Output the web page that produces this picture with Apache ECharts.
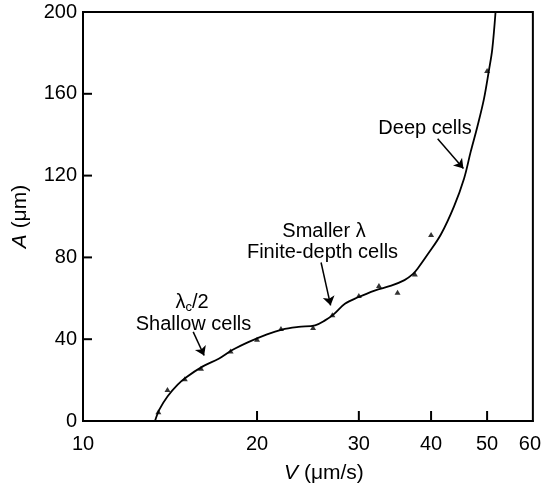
<!DOCTYPE html>
<html>
<head>
<meta charset="utf-8">
<script src="https://cdn.jsdelivr.net/npm/echarts@6/dist/echarts.min.js"></script>
<style>
html,body{margin:0;padding:0;background:#fff;}
#c{width:544px;height:489px;}
</style>
</head>
<body>
<div id="c"></div>
<script>
// Measured points (triangles)
const V_pts = [13.5, 14, 15, 16, 18, 20, 22, 25, 27, 30, 32.5, 35, 37.5, 40, 50];
const A_pts = [4.5, 15.4, 20.7, 25.8, 34.2, 40.0, 45.2, 45.7, 52.0, 61.4, 66.2, 63.0, 71.9, 91.2, 171.4];
// Fitted curve
const V_curve = [13.32, 13.56, 14.01, 14.58, 15.07, 16.09, 17.20, 18.12, 19.36, 20.81, 22.09, 23.59, 25.20, 26.22, 27.10, 28.38, 29.91, 31.95, 34.13, 35.98, 37.19, 37.93, 39.47, 41.59, 43.85, 45.62, 46.83, 48.08, 49.37, 50.36, 51.03, 51.71];
const A_curve = [0, 5.7, 12.1, 17.8, 21.3, 26.6, 30.6, 34.7, 38.7, 42.4, 44.7, 46.0, 46.8, 49.2, 52.0, 57.3, 60.5, 63.8, 66.2, 68.9, 71.8, 74.6, 81.5, 91.2, 105.1, 118.6, 131.6, 143.8, 157.4, 171.4, 181.6, 200];
// Tick labels
const xTicks = [10, 20, 30, 40, 50, 60];
const yTicks = [0, 40, 80, 120, 160, 200];
// Annotation arrows (data coords: [from, to])
const arrows = [
  [[15.51, 43.6], [16.20, 32.0]],
  [[25.81, 77.5], [26.81, 56.5]],
  [[41.06, 138.0], [45.50, 123.5]]
];

const FONT = '"Liberation Sans", Arial, Helvetica, sans-serif';
const chart = echarts.init(document.getElementById('c'), null, {renderer: 'canvas'});

const pts = V_pts.map((v, i) => [v, A_pts[i]]);
const curve = V_curve.map((v, i) => [v, A_curve[i]]);
const xMin = xTicks[0], xMax = xTicks[xTicks.length - 1];
const yMin = yTicks[0], yMax = yTicks[yTicks.length - 1];

// inward tick marks drawn through the axes' own scales
function tickSeries(data, dx, dy) {
  return {
    type: 'custom', silent: true, clip: false, z: 5,
    data: data,
    renderItem: function (params, api) {
      const p = api.coord([api.value(0), api.value(1)]);
      return {type: 'line', shape: {x1: p[0], y1: p[1], x2: p[0] + dx, y2: p[1] + dy},
        style: {stroke: '#000', lineWidth: 2}};
    }
  };
}

const option = {
  animation: false,
  backgroundColor: '#fff',
  grid: {
    left: 83, right: 8, top: 12, bottom: 64,
    show: true, borderColor: '#000', borderWidth: 2, backgroundColor: 'transparent'
  },
  xAxis: {
    type: 'log', logBase: 10, min: xMin, max: xMax,
    name: '{i|V} (μm/s)',
    nameLocation: 'middle', nameGap: 42,
    nameTextStyle: {fontFamily: FONT, fontSize: 21, color: '#000', padding: [0, 0, 0, 32],
      rich: {i: {fontStyle: 'italic', fontFamily: FONT, fontSize: 21, color: '#000'}}},
    axisLine: {show: true, lineStyle: {color: '#000', width: 2}},
    axisTick: {show: false},
    axisLabel: {customValues: xTicks, fontFamily: FONT, fontSize: 20, color: '#000', margin: 13,
      formatter: v => (v === 60 ? '{r|60}' : String(v)),
      rich: {r: {fontFamily: FONT, fontSize: 20, color: '#000', padding: [0, 6, 0, 0]}}},
    splitLine: {show: false}, minorTick: {show: false}
  },
  yAxis: {
    type: 'value', min: yMin, max: yMax, interval: 40,
    name: '{i|A} (μm)',
    nameLocation: 'middle', nameGap: 52,
    nameTextStyle: {fontFamily: FONT, fontSize: 21, color: '#000',
      rich: {i: {fontStyle: 'italic', fontFamily: FONT, fontSize: 21, color: '#000'}}},
    axisLine: {show: true, lineStyle: {color: '#000', width: 2}},
    axisTick: {show: false},
    axisLabel: {fontFamily: FONT, fontSize: 20, color: '#000', margin: 6},
    splitLine: {show: false}
  },
  series: [
    {
      type: 'line', data: curve, smooth: 0.35, showSymbol: false, symbol: 'none',
      lineStyle: {color: '#000', width: 1.8}, clip: true, z: 3,
      markLine: {
        silent: true, symbol: ['none', 'arrow'], symbolSize: 9,
        lineStyle: {color: '#000', width: 1.5, type: 'solid'},
        label: {show: false},
        data: arrows.map(a => [{coord: a[0]}, {coord: a[1]}])
      }
    },
    {
      type: 'scatter', data: pts, symbol: 'triangle', symbolSize: [6, 5],
      itemStyle: {color: '#000'}, z: 4
    },
    tickSeries(xTicks.slice(1, -1).map(v => [v, yMin]), 0, -10),
    tickSeries(yTicks.slice(1, -1).map(a => [xMin, a]), 9, 0)
  ],
  graphic: [
    {type: 'text', x: 192, y: 302, style: {
      text: '{a|λ}{s|c}{a|/2}', textAlign: 'center', textVerticalAlign: 'middle',
      rich: {a: {fontFamily: FONT, fontSize: 20, fill: '#000'}, s: {fontFamily: FONT, fontSize: 13, fill: '#000', padding: [10, 0, 0, 0]}}}},
    {type: 'text', x: 193.5, y: 324, style: {text: 'Shallow cells', font: '20px ' + FONT, fill: '#000', textAlign: 'center', textVerticalAlign: 'middle'}},
    {type: 'text', x: 324, y: 231, style: {text: 'Smaller λ', font: '20px ' + FONT, fill: '#000', textAlign: 'center', textVerticalAlign: 'middle'}},
    {type: 'text', x: 322.5, y: 252, style: {text: 'Finite-depth cells', font: '20px ' + FONT, fill: '#000', textAlign: 'center', textVerticalAlign: 'middle'}},
    {type: 'text', x: 425, y: 128.5, style: {text: 'Deep cells', font: '20px ' + FONT, fill: '#000', textAlign: 'center', textVerticalAlign: 'middle'}}
  ]
};
chart.setOption(option);
</script>
</body>
</html>
